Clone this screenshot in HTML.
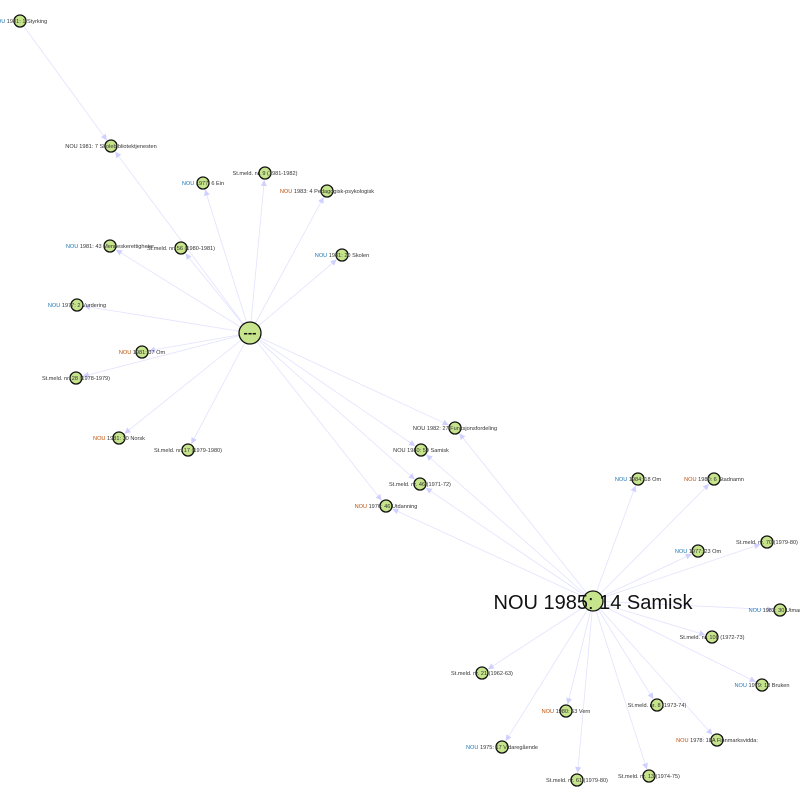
<!DOCTYPE html>
<html><head><meta charset="utf-8"><style>
body{margin:0;background:#fff}
svg{display:block}
text{font-family:"Liberation Sans",sans-serif}
</style></head><body>
<svg id="g" width="800" height="800"></svg>
<script>
const hubNames=["---","NOU 1985: 14 Samisk"];
const hubX=[250,593];
const hubY=[333,601];
const nodeNames=["NOU 1981: 1 Styrking","NOU 1981: 7 Skolebibliotektjenesten","NOU 1977: 6 Ein","St.meld. nr. 9 (1981-1982)","NOU 1983: 4 Pedagogisk-psykologisk","NOU 1981: 43 Menneskerettigheter","St.meld. nr. 56 (1980-1981)","NOU 1981: 20 Skolen","NOU 1977: 2 Vurdering","NOU 1981: 37 Om","St.meld. nr. 28 (1978-1979)","NOU 1981: 30 Norsk","St.meld. nr. 17 (1979-1980)","NOU 1982: 27 Funksjonsfordeling","NOU 1980: 59 Samisk","St.meld. nr. 46 (1971-72)","NOU 1976: 46 Utdanning","NOU 1984: 18 Om","NOU 1980: 6 Stadnamn","St.meld. nr. 70 (1979-80)","NOU 1977: 23 Om","NOU 1982: 30 Utmarkinn","St.meld. nr. 108 (1972-73)","St.meld. nr. 21 (1962-63)","NOU 1980: 53 Vern","NOU 1975: 17 Vidaregående","St.meld. nr. 8 (1973-74)","NOU 1979: 18 Bruken","NOU 1978: 18A Finnmarksvidda:","St.meld. nr. 61 (1979-80)","St.meld. nr. 13 (1974-75)"];
const nodeX=[20,111,203,265,327,110,181,342,77,142,76,119,188,455,421,420,386,638,714,767,698,780,712,482,566,502,657,762,717,577,649];
const nodeY=[21,146,183,173,191,246,248,255,305,352,378,438,450,428,450,484,506,479,479,542,551,610,637,673,711,747,705,685,740,780,776];
const prefixColor=["b","k","b","k","o","b","k","b","b","o","k","o","k","k","k","k","o","b","o","k","b","b","k","k","o","b","k","b","o","k","k"];
// edges: [source, target]; source -1 => hub0, -2 => hub1, otherwise node index
const edgeSrc=[0,-1,-1,-1,-1,-1,-1,-1,-1,-1,-1,-1,-1,-1,-1,-1,-1,-2,-2,-2,-2,-2,-2,-2,-2,-2,-2,-2,-2,-2,-2,-2,-2,-2,-2];
const edgeDst=[1,1,2,3,4,5,6,7,8,9,10,11,12,13,14,15,16,13,14,15,16,17,18,19,20,21,22,23,24,25,26,27,28,29,30];
const NS="http://www.w3.org/2000/svg";
const svg=document.getElementById('g');
function mk(t,a,p){const e=document.createElementNS(NS,t);for(const k in a)e.setAttribute(k,a[k]);(p||svg).appendChild(e);return e;}
function pos(i){return i<0?[hubX[-i-1],hubY[-i-1]]:[nodeX[i],nodeY[i]];}
const eg=mk('g',{});


for(let k=0;k<edgeSrc.length;k++){
 const [x1,y1]=pos(edgeSrc[k]),[x2,y2]=pos(edgeDst[k]);
 const dx=x2-x1,dy=y2-y1,L=Math.hypot(dx,dy),ux=dx/L,uy=dy/L;
 const ex=x2-ux*7,ey=y2-uy*7;
 const l=mk('line',{x1:x1,y1:y1,x2:ex,y2:ey,stroke:'#e2e2ff','stroke-width':0.8},eg);
 
 
 const bx=ex-ux*6,by=ey-uy*6,px=-uy*3,py=ux*3;
 const a=mk('polygon',{points:`${ex},${ey} ${bx+px},${by+py} ${bx-px},${by-py}`,fill:'#d0d0ff'},eg);
 
 
}
const cols={b:'#1f77b4',o:'#c0500a',k:'#333'};
for(let i=0;i<nodeNames.length;i++){
 const c=mk('circle',{cx:nodeX[i],cy:nodeY[i],r:6,fill:'#c6e48b',stroke:'#111','stroke-width':1.3});
 
 
}
for(let i=0;i<nodeNames.length;i++){
 const t=mk('text',{x:nodeX[i],y:nodeY[i]+2,'text-anchor':'middle','font-size':5.6,fill:'#333'});
 
 
 const n=nodeNames[i];
 if(n.startsWith('NOU')){
  const s=mk('tspan',{fill:cols[prefixColor[i]]},t);s.textContent='NOU';
  const r=mk('tspan',{},t);r.textContent=n.slice(3);
 } else t.textContent=n;
}
const h0=mk('circle',{cx:hubX[0],cy:hubY[0],r:11,fill:'#c6e48b',stroke:'#111','stroke-width':1.3});


const t0=mk('text',{x:hubX[0],y:hubY[0]+4,'text-anchor':'middle','font-size':13,'font-weight':'bold',fill:'#111'});
t0.textContent=hubNames[0];


const h1=mk('circle',{cx:hubX[1],cy:hubY[1],r:10,fill:'#c6e48b',stroke:'#111','stroke-width':1.3});


const t1=mk('text',{x:hubX[1],y:hubY[1]+8,'text-anchor':'middle','font-size':20,fill:'#111'});
t1.textContent=hubNames[1];


</script>
</body></html>
